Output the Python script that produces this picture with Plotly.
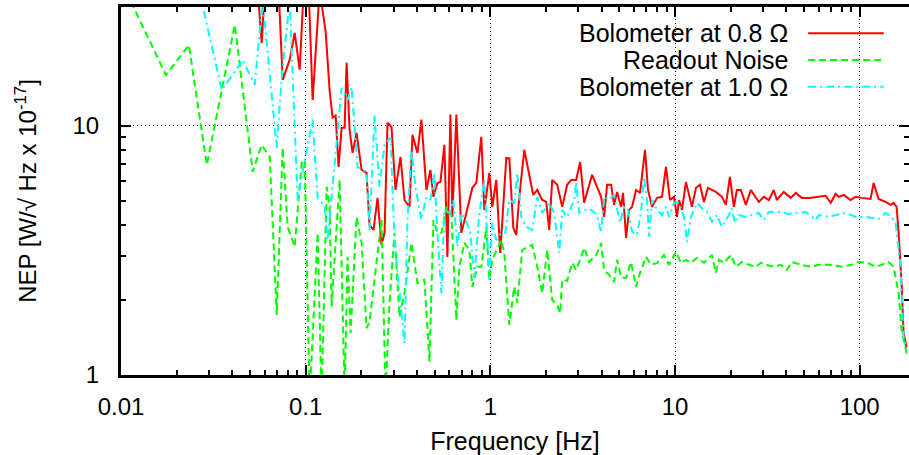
import math
import plotly.graph_objects as go

# ---------------- data ----------------
freq_bolo08 = [0.0530, 0.0550, 0.0578, 0.0600, 0.0655, 0.0714, 0.0751, 0.0819, 0.0872, 0.0928,
               0.0975, 0.1038, 0.1091, 0.1190, 0.1283, 0.1348, 0.1399, 0.1453, 0.1508, 0.1565,
               0.1625, 0.1666, 0.1729, 0.1795, 0.1886, 0.2008, 0.2136, 0.2217, 0.2331, 0.2450,
               0.2575, 0.2674, 0.2775, 0.2916, 0.3065, 0.3262, 0.3428, 0.3649, 0.3787, 0.4030,
               0.4235, 0.4508, 0.4738, 0.4918, 0.5169, 0.5366, 0.5640, 0.5854, 0.6077, 0.6230,
               0.6548, 0.6968, 0.7324, 0.7990, 0.8398, 0.8937, 0.9281, 0.9877, 1.025, 1.077,
               1.132, 1.220, 1.267, 1.332, 1.382, 1.435, 1.527, 1.708, 1.795, 1.910,
               2.008, 2.084, 2.163, 2.302, 2.450, 2.607, 2.741, 2.916, 3.065, 3.222,
               3.559, 3.980, 4.132, 4.288, 4.508, 4.680, 4.857, 5.105, 5.234, 5.433,
               5.640, 5.854, 6.153, 6.467, 6.882, 7.144, 7.509, 7.991, 8.503, 8.937,
               9.396, 9.877, 10.25, 10.51, 10.91, 11.46, 12.35, 12.99, 13.65, 14.35,
               15.08, 16.66, 17.95, 18.86, 19.83, 20.84, 21.63, 22.73, 24.20, 25.75,
               28.45, 30.27, 32.22, 34.28, 35.58, 38.83, 42.35, 45.08, 48.57, 53.66,
               60.02, 65.48, 69.68, 74.16, 76.98, 81.92, 89.37, 95.13, 102.5, 114.6,
               119.0, 126.7, 138.2, 147.1, 152.7, 158.5, 162.5, 168.6, 172.9, 179.5]
nep_bolo08 = [40, 35, 21.5, 35, 40, 35, 15.3, 18.4, 23.6, 16.8,
              35, 35, 12.7, 35, 23.9, 13.9, 10.8, 11.0, 6.84, 9.82,
              9.82, 17.9, 9.64, 7.79, 9.37, 6.66, 6.48, 4.0, 3.82, 5.14,
              3.33, 3.72, 10.3, 9.9, 5.53, 7.51, 5.04, 4.73, 9.2, 7.79,
              10.6, 5.53, 6.66, 5.19, 5.9, 5.95, 8.39, 2.98, 11.1, 4.31,
              11.1, 3.72, 4.31, 5.64, 5.9, 9.03, 4.6, 6.48, 4.73, 6.07,
              3.09, 7.44, 7.4, 3.89, 3.65, 5.19, 8.01, 5.28, 5.53, 5.04,
              4.95, 3.82, 6.07, 5.8, 4.73, 5.8, 6.07, 6.07, 7.17, 4.91,
              6.36, 5.19, 4.31, 5.8, 5.8, 4.82, 5.43, 4.73, 5.38, 3.55,
              4.6, 4.73, 5.53, 5.38, 8.01, 5.53, 4.73, 5.14, 5.19, 6.84,
              5.04, 5.19, 4.31, 5.04, 4.6, 5.95, 4.73, 5.64, 5.8, 4.95,
              5.64, 5.43, 5.19, 4.82, 6.24, 4.73, 5.53, 5.53, 4.82, 5.53,
              4.95, 5.19, 5.04, 5.53, 5.04, 5.43, 5.14, 5.38, 5.14, 5.14,
              5.19, 5.24, 4.91, 5.33, 5.19, 5.28, 5.04, 5.19, 5.14, 5.09,
              5.9, 5.09, 4.95, 4.82, 4.91, 4.73, 3.72, 2.34, 1.47, 1.29]

freq_readout = [0.01132, 0.01751, 0.02331, 0.02916, 0.04132, 0.05169, 0.0578, 0.0639, 0.0697, 0.0751,
                0.0799, 0.0872, 0.0951, 0.0988, 0.1051, 0.1161, 0.1220, 0.1299, 0.1348, 0.1382,
                0.1527, 0.1625, 0.1686, 0.1751, 0.1886, 0.2008, 0.2136, 0.2217, 0.2575, 0.2707,
                0.2845, 0.3027, 0.3222, 0.3428, 0.3740, 0.4030, 0.4397, 0.4680, 0.4918, 0.5169,
                0.5433, 0.5781, 0.6153, 0.6548, 0.6797, 0.7234, 0.7698, 0.7990, 0.8503, 0.8937,
                0.9513, 0.9877, 1.025, 1.091, 1.146, 1.190, 1.267, 1.348, 1.399, 1.490,
                1.686, 1.795, 1.910, 2.033, 2.163, 2.302, 2.390, 2.450, 2.607, 2.775,
                2.916, 3.103, 3.222, 3.428, 3.740, 3.980, 4.132, 4.397, 4.680, 4.857,
                5.105, 5.433, 5.781, 6.153, 6.467, 6.968, 7.416, 7.991, 8.718, 9.281,
                10.13, 10.77, 11.46, 12.20, 13.15, 14.35, 15.85, 16.66, 17.29, 18.40,
                20.08, 21.36, 23.02, 25.12, 27.41, 29.16, 31.03, 34.28, 37.40, 40.30,
                42.88, 47.97, 54.33, 60.02, 67.97, 79.91, 90.49, 98.77, 109.1, 123.5,
                143.5, 152.7, 162.5, 168.6, 177.3, 181.7]
nep_readout = [31.5, 16.0, 21.1, 6.97, 25.4, 6.54, 8.39, 7.51, 1.74, 8.16,
               3.93, 3.27, 7.1, 7.3, 0.8, 3.72, 0.8, 5.69, 4.73, 1.88,
               6.07, 0.85, 2.98, 1.47, 4.31, 3.39, 1.54, 1.63, 4.19, 0.85,
               1.96, 3.72, 1.71, 2.13, 3.39, 2.34, 2.41, 1.13, 4.19, 3.72,
               3.72, 4.73, 4.39, 1.66, 2.72, 3.39, 3.18, 2.26, 2.72, 2.72,
               3.93, 2.41, 2.9, 3.24, 3.48, 3.09, 1.59, 2.26, 1.95, 3.18,
               3.33, 2.72, 2.13, 3.18, 2.0, 1.91, 1.77, 2.41, 2.39, 2.82,
               2.64, 2.98, 3.24, 2.84, 3.03, 3.39, 2.64, 2.52, 2.36, 2.9,
               2.47, 2.45, 2.84, 2.26, 2.57, 2.98, 2.77, 2.82, 3.03, 2.77,
               3.12, 2.82, 2.9, 2.82, 2.95, 2.82, 3.03, 2.57, 2.9, 2.82,
               3.03, 2.72, 2.84, 2.77, 2.72, 2.82, 2.77, 2.72, 2.77, 2.64,
               2.84, 2.77, 2.72, 2.77, 2.77, 2.72, 2.77, 2.84, 2.82, 2.72,
               2.84, 2.72, 2.13, 1.52, 1.29, 1.18]

freq_bolo10 = [0.02543, 0.03514, 0.04564, 0.0530, 0.0585, 0.0697, 0.0742, 0.0819, 0.0905, 0.0988,
               0.1091, 0.1161, 0.1220, 0.1267, 0.1315, 0.1565, 0.1686, 0.1773, 0.1910, 0.2136,
               0.2217, 0.2361, 0.2512, 0.2674, 0.2880, 0.3027, 0.3142, 0.3303, 0.3428, 0.3559,
               0.3740, 0.3931, 0.4235, 0.4508, 0.4738, 0.4980, 0.5169, 0.5433, 0.5640, 0.6002,
               0.6308, 0.6630, 0.6968, 0.7416, 0.7794, 0.8192, 0.8718, 0.9281, 0.9633, 0.9877,
               1.025, 1.077, 1.146, 1.205, 1.267, 1.348, 1.399, 1.471, 1.565, 1.686,
               1.795, 1.910, 2.084, 2.217, 2.361, 2.450, 2.607, 2.845, 2.916, 3.027,
               3.428, 3.787, 3.980, 4.132, 4.397, 4.680, 5.042, 5.300, 5.570, 5.854,
               6.230, 6.548, 6.797, 7.055, 7.234, 7.509, 7.991, 8.503, 8.937, 9.281,
               9.877, 10.51, 11.18, 11.61, 12.20, 13.15, 13.99, 14.90, 15.85, 16.86,
               17.95, 19.59, 20.33, 21.10, 22.17, 24.20, 26.07, 28.45, 30.27, 32.22,
               37.40, 41.32, 45.64, 51.05, 57.81, 60.02, 67.97, 74.16, 83.98, 95.13,
               107.7, 126.7, 138.2, 149.0, 156.5, 166.5, 172.9, 179.5]
nep_bolo10 = [40, 13.9, 18.4, 14.6, 32, 8.16, 15.7, 32, 5.04, 7.3,
              10.6, 5.14, 4.91, 4.73, 3.48, 14.2, 12.7, 14.3, 6.84, 6.54,
              3.82, 11.0, 5.69, 8.4, 9.0, 3.48, 2.57, 1.71, 1.34, 4.19,
              8.01, 5.69, 4.19, 5.19, 5.04, 6.48, 3.72, 2.13, 4.6, 4.47,
              5.04, 3.27, 4.47, 4.12, 3.72, 2.47, 4.47, 6.07, 3.27, 2.41,
              4.08, 3.48, 3.72, 3.72, 5.04, 4.91, 6.48, 4.31, 3.93, 3.82,
              5.19, 4.47, 4.91, 4.47, 3.09, 4.6, 4.31, 5.04, 5.95, 4.47,
              4.67, 4.39, 3.72, 5.19, 5.04, 5.28, 4.08, 4.73, 4.6, 3.75,
              3.65, 4.51, 6.24, 5.04, 3.59, 5.04, 4.6, 4.39, 4.73, 4.31,
              4.91, 4.91, 4.31, 3.42, 4.31, 4.91, 4.67, 4.51, 4.12, 4.39,
              3.93, 4.39, 4.67, 4.08, 4.39, 4.31, 4.39, 4.47, 4.19, 4.51,
              4.51, 4.43, 4.47, 4.51, 4.19, 4.39, 4.31, 4.39, 4.47, 4.31,
              4.31, 4.23, 4.47, 4.31, 4.08, 2.72, 1.38, 1.29]

series_names = ["Bolometer at 0.8 \u03a9", "Readout Noise", "Bolometer at 1.0 \u03a9"]
x_tick_values = [0.01, 0.1, 1, 10, 100]
x_tick_labels = ["0.01", "0.1", "1", "10", "100"]
y_tick_values = [1, 10]
y_tick_labels = ["1", "10"]
x_title = "Frequency [Hz]"
y_title = "NEP [W/\u221a Hz x 10<sup>-17</sup>]"

# ---------------- styling ----------------
FONT = "Liberation Sans, Arial, Helvetica, sans-serif"
colors = ["#ff0000", "#00ff00", "#00ffff"]
dashes = ["solid", "7px,4px", "8px,4px,2px,4px"]

fig = go.Figure()
series = [(freq_bolo08, nep_bolo08), (freq_readout, nep_readout), (freq_bolo10, nep_bolo10)]
for (fx, fy), name, c, d in zip(series, series_names, colors, dashes):
    fig.add_trace(go.Scatter(x=fx, y=fy, mode="lines", name=name, showlegend=False,
                             line=dict(color=c, width=2, dash=d)))

minor_x = [m * 10 ** e for e in range(-2, 3) for m in range(2, 10)]
minor_y = [m for m in range(2, 10)]

axis_common = dict(
    type="log", ticks="inside", ticklen=10, tickwidth=2, tickcolor="black",
    showline=True, linewidth=3, linecolor="black", mirror="ticks",
    showgrid=True, gridcolor="black", gridwidth=1, griddash="1px,3px",
    zeroline=False, tickmode="array", automargin=False,
    tickfont=dict(family=FONT, size=24, color="black"),
)

fig.update_xaxes(
    **axis_common,
    range=[-2, math.log10(185)],
    tickvals=x_tick_values, ticktext=x_tick_labels,
    ticklabelstandoff=8,
    minor=dict(tickmode="array", tickvals=minor_x, ticks="inside", ticklen=5,
               tickwidth=2, tickcolor="black", showgrid=False),
    title=dict(text=x_title, font=dict(family=FONT, size=25, color="black"), standoff=14),
)
fig.update_yaxes(
    **axis_common,
    range=[0, math.log10(30)],
    tickvals=y_tick_values, ticktext=y_tick_labels,
    ticklabelstandoff=14,
    minor=dict(tickmode="array", tickvals=minor_y, ticks="inside", ticklen=5,
               tickwidth=2, tickcolor="black", showgrid=False),
    title=dict(text=y_title, font=dict(family=FONT, size=24, color="black"), standoff=30),
)

# custom key (text on the left, sample on the right, like the original)
shapes = [dict(type="rect", xref="paper", yref="paper", x0=0.43, x1=1.0, y0=0.747, y1=1.0,
               fillcolor="white", line=dict(width=0), layer="between")]
annotations = []
rows_y = [0.929, 0.856, 0.783]
for name, c, d, ry in zip(series_names, colors, dashes, rows_y):
    annotations.append(dict(xref="paper", yref="paper", x=0.849, y=ry, text=name,
                            showarrow=False, xanchor="right", yanchor="middle",
                            font=dict(family=FONT, size=25, color="black")))
    shapes.append(dict(type="line", xref="paper", yref="paper", x0=0.872, x1=0.968,
                       y0=ry, y1=ry, line=dict(color=c, width=2, dash=d), layer="above"))

fig.update_layout(
    width=909, height=455,
    margin=dict(l=121, r=0, t=7, b=80, autoexpand=False),
    paper_bgcolor="white", plot_bgcolor="white",
    font=dict(family=FONT, size=24, color="black"),
    shapes=shapes, annotations=annotations,
    showlegend=False,
)

fig.write_html("out.html",
               config={"displayModeBar": False},
               post_script="document.body.style.margin='0';document.body.style.padding='0';")
